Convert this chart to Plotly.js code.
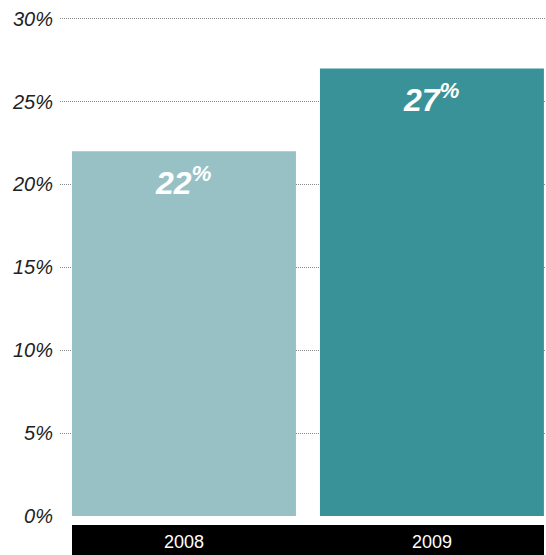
<!DOCTYPE html>
<html>
<head>
<meta charset="utf-8">
<script src="https://cdn.plot.ly/plotly-3.0.1.min.js"></script>
<style>html,body{margin:0;padding:0;background:#fff;}#chart{width:546px;height:555px;}</style>
</head>
<body>
<div id="chart"></div>
<script>
const years = ['2008', '2009'];
const shares = [22, 27];
const barColors = ['#98c1c6', '#3a9299'];
const yTicks = [0, 5, 10, 15, 20, 25, 30];

const font = '"Liberation Sans", Arial, sans-serif';

const trace = {
  type: 'bar',
  x: years,
  y: shares,
  marker: {color: barColors, line: {width: 0}},
  hoverinfo: 'none'
};

// category axis: annotation x given as category index
const annotations = years.map((yr, i) => ({
  x: years.indexOf(yr), y: shares[i], xref: 'x', yref: 'y',
  text: '<b><i>' + shares[i] + '<sup>%</sup></i></b>',
  showarrow: false, xanchor: 'center', yanchor: 'top', yshift: -8,
  font: {family: font, size: 32, color: '#ffffff'}
}));

const layout = {
  width: 546, height: 555,
  margin: {l: 60, r: 0, t: 17, b: 39, pad: 0},
  paper_bgcolor: '#ffffff', plot_bgcolor: '#ffffff',
  showlegend: false,
  bargap: 0.0968,
  xaxis: {
    type: 'category', range: [-0.5, 1.46],
    showgrid: false, zeroline: false, showline: false, ticks: '',
    tickfont: {family: font, size: 18, color: '#ffffff'},
    ticklabelstandoff: 13
  },
  yaxis: {
    range: [0, 30.1], tickvals: yTicks, ticktext: yTicks.map(v => v + '%'),
    showgrid: true, gridcolor: '#8a8a8a', griddash: '1px,1px', gridwidth: 1,
    zeroline: false, showline: false, ticks: '',
    tickfont: {family: font, size: 20, color: '#222222', style: 'italic'},
    ticklabelstandoff: 6
  },
  shapes: [{
    type: 'rect', xref: 'paper', yref: 'paper', layer: 'below',
    x0: 12 / 486, x1: 484 / 486, y0: -9 / 499, y1: -45 / 499,
    fillcolor: '#000000', line: {width: 0}
  }],
  annotations: annotations
};

Plotly.newPlot('chart', [trace], layout, {displayModeBar: false, staticPlot: true});
</script>
</body>
</html>
